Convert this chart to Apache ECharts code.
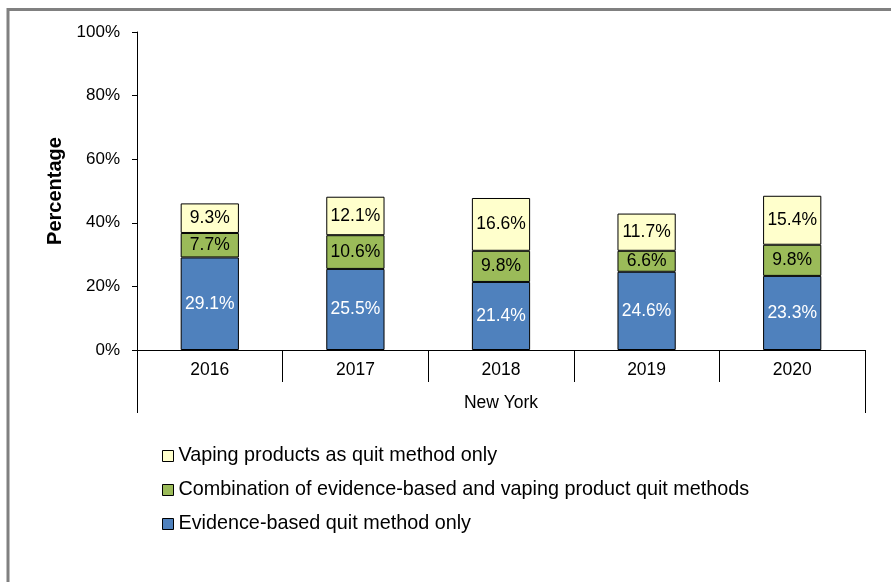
<!DOCTYPE html>
<html>
<head>
<meta charset="utf-8">
<script src="https://cdn.jsdelivr.net/npm/echarts@6/dist/echarts.min.js"></script>
<style>
  html, body { margin: 0; padding: 0; background: #fff; }
  #chart { width: 891px; height: 582px; }
</style>
</head>
<body>
<div id="chart"></div>
<script>
// data
var years = ["2016", "2017", "2018", "2019", "2020"];
var groupName = ["New York"];
var evidenceOnly = [29.1, 25.5, 21.4, 24.6, 23.3];
var combination = [7.7, 10.6, 9.8, 6.6, 9.8];
var vapingOnly = [9.3, 12.1, 16.6, 11.7, 15.4];

var nameEvidence = "Evidence-based quit method only";
var nameCombo = "Combination of evidence-based and vaping product quit methods";
var nameVaping = "Vaping products as quit method only";

var font = "Liberation Sans, Arial, sans-serif";

function barSeries(name, data, color, labelColor) {
  return {
    name: name,
    type: "bar",
    stack: "total",
    barWidth: "40%",
    data: data,
    itemStyle: { color: color, borderColor: "#000", borderWidth: 1 },
    label: {
      show: true,
      position: "inside",
      color: labelColor,
      fontFamily: font,
      fontSize: 17.5,
      formatter: function (p) { return p.value.toFixed(1) + "%"; }
    }
  };
}

var myChart = echarts.init(document.getElementById("chart"));
var option = {
  backgroundColor: "#fff",
  animation: false,
  graphic: [{
    type: "rect",
    shape: { x: 8, y: 9.5, width: 1000, height: 700 },
    style: { fill: "none", stroke: "#808080", lineWidth: 3 }
  }],
  grid: { left: 137, right: 26, top: 32, bottom: 232 },
  legend: {
    orient: "vertical",
    left: 162,
    top: 446,
    padding: 0,
    itemWidth: 11,
    itemHeight: 11,
    itemGap: 14,
    icon: "rect",
    data: [nameVaping, nameCombo, nameEvidence],
    textStyle: { fontFamily: font, fontSize: 19.8, color: "#000", lineHeight: 20 },
    itemStyle: { borderColor: "#000", borderWidth: 1 }
  },
  xAxis: [{
    type: "category",
    data: years,
    position: "bottom",
    axisLine: { lineStyle: { color: "#000", width: 1 } },
    axisTick: { show: true, interval: 0, length: 32, lineStyle: { color: "#000" } },
    axisLabel: { color: "#000", fontFamily: font, fontSize: 17.5, margin: 11 }
  }, {
    type: "category",
    data: groupName,
    position: "bottom",
    axisLine: { show: false },
    axisTick: { show: true, length: 63, lineStyle: { color: "#000" } },
    axisLabel: { color: "#000", fontFamily: font, fontSize: 17.5, margin: 44 }
  }],
  yAxis: {
    type: "value",
    min: 0,
    max: 100,
    interval: 20,
    name: "Percentage",
    nameLocation: "middle",
    nameGap: 67,
    nameTextStyle: { fontFamily: font, fontSize: 20, fontWeight: "bold", color: "#000" },
    splitLine: { show: false },
    axisLine: { show: true, lineStyle: { color: "#000" } },
    axisTick: { show: true, length: 5, lineStyle: { color: "#000" } },
    axisLabel: { color: "#000", fontFamily: font, fontSize: 17, margin: 17, formatter: "{value}%" }
  },
  series: [
    barSeries(nameEvidence, evidenceOnly, "#4F81BD", "#fff"),
    barSeries(nameCombo, combination, "#9BBB59", "#000"),
    barSeries(nameVaping, vapingOnly, "#FFFFCC", "#000")
  ]
};
myChart.setOption(option);
</script>
</body>
</html>
